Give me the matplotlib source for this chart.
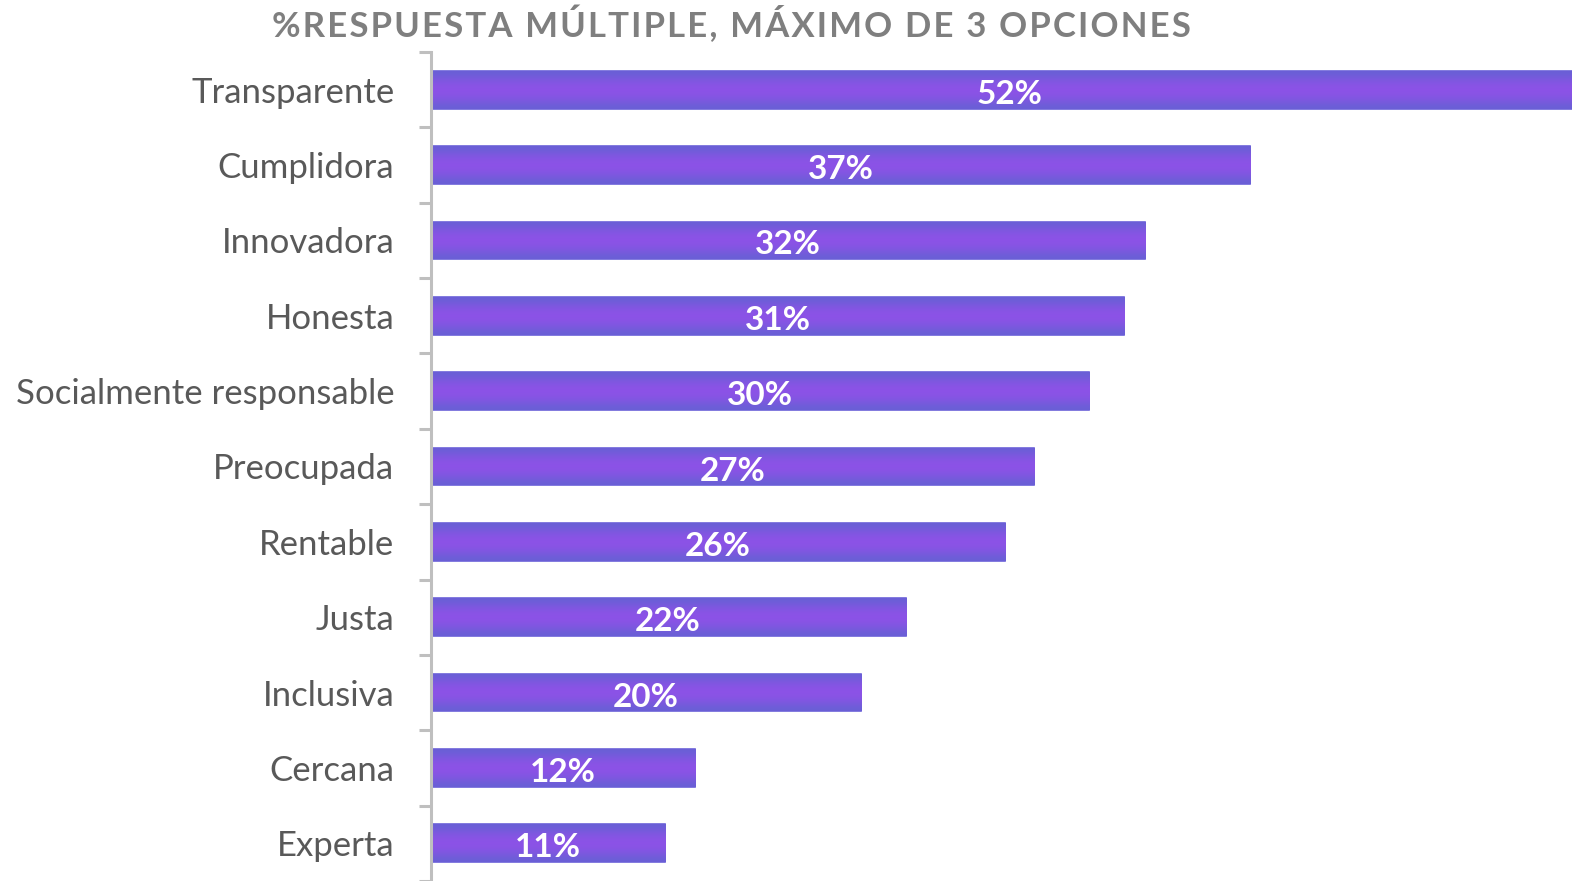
import numpy as np
import matplotlib
matplotlib.use('Agg')
from matplotlib import pyplot as plt
from matplotlib.colors import LinearSegmentedColormap

categorias = ['Transparente', 'Cumplidora', 'Innovadora', 'Honesta',
              'Socialmente responsable', 'Preocupada', 'Rentable', 'Justa',
              'Inclusiva', 'Cercana', 'Experta']
valores = [52.4, 37.1, 32.35, 31.4, 29.8, 27.3, 26.0, 21.5, 19.5, 11.95, 10.6]
etiquetas = ['52%', '37%', '32%', '31%', '30%', '27%', '26%', '22%', '20%', '12%', '11%']
titulo = '%RESPUESTA MÚLTIPLE, MÁXIMO DE 3 OPCIONES'

plt.rcParams['font.family'] = ['Lato', 'DejaVu Sans']

fig = plt.figure(figsize=(15.72, 8.81), dpi=100)
ax = fig.add_axes([430.5/1572, 0, 1141.5/1572, 1 - 52/881])

y = np.arange(len(categorias))
bars = ax.barh(y, valores, height=0.5, color='#8A53E5', edgecolor='#6C62D8', linewidth=1.2)

# gradiente vertical dentro de cada barra
grad = np.array([0.0, 0.5, 0.85, 1.0, 0.85, 0.5, 0.0]).reshape(-1, 1)
cmap = LinearSegmentedColormap.from_list('g', ['#6A5FD6', '#8D52E7'])
for b in bars:
    x0, y0 = b.get_x(), b.get_y()
    im = ax.imshow(grad, cmap=cmap, aspect='auto', interpolation='bicubic',
                   extent=(x0, x0 + b.get_width(), y0, y0 + b.get_height()), zorder=2)
    im.set_clip_path(b)

for yi, v, lab in zip(y, valores, etiquetas):
    ax.text(v / 2, yi + 0.06, lab, ha='center', va='center', color='white',
            fontsize=24, fontweight='bold', zorder=3)

ax.set_xlim(0, 1141.5 / 22.1)
ax.set_ylim(len(categorias) - 0.5, -0.5)
ax.set_yticks(y)
ax.set_yticklabels(categorias, fontsize=25, color='#595959')
ax.set_yticks(np.arange(-0.5, len(categorias)), minor=True)
ax.tick_params(axis='y', which='major', length=0, pad=26)
ax.tick_params(axis='y', which='minor', length=9, width=2.2, color='#BFBFBF')
ax.set_xticks([])
for s in ['top', 'right', 'bottom']:
    ax.spines[s].set_visible(False)
ax.spines['left'].set_color('#BFBFBF')
ax.spines['left'].set_linewidth(2.2)

# título con espaciado entre letras
fig.text(0.4653, 1 - 24/881, '\u200a'.join(titulo), ha='center', va='center', fontsize=25,
         fontweight='bold', color='#7F7F7F')

fig.savefig('out.png', dpi=100)
